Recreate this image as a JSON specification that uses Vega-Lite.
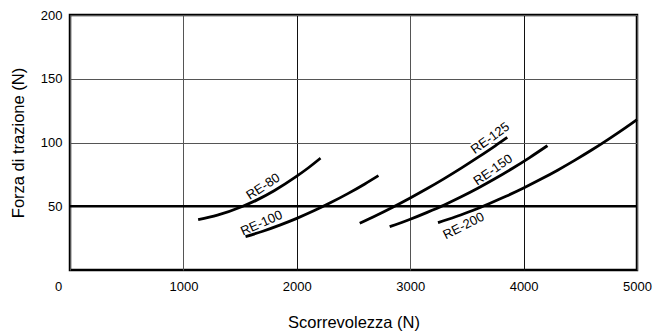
{
  "$schema": "https://vega.github.io/schema/vega-lite/v6.json",
  "width": 567,
  "height": 255,
  "autosize": {"type": "none"},
  "padding": {"left": 70, "top": 15, "right": 17, "bottom": 64},
  "background": "white",
  "config": {
    "view": {"stroke": "black", "strokeWidth": 2.5},
    "font": "Liberation Sans, Arial, sans-serif"
  },
  "datasets": {
    "curves": [
      {"model": "RE-80", "scorrevolezza": 1130, "forza": 39.5},
      {"model": "RE-80", "scorrevolezza": 1300, "forza": 43},
      {"model": "RE-80", "scorrevolezza": 1524, "forza": 50},
      {"model": "RE-80", "scorrevolezza": 1650, "forza": 55},
      {"model": "RE-80", "scorrevolezza": 1800, "forza": 62.2},
      {"model": "RE-80", "scorrevolezza": 2000, "forza": 73.6},
      {"model": "RE-80", "scorrevolezza": 2100, "forza": 80},
      {"model": "RE-80", "scorrevolezza": 2209, "forza": 87.7},
      {"model": "RE-100", "scorrevolezza": 1548, "forza": 26.2},
      {"model": "RE-100", "scorrevolezza": 1700, "forza": 30.4},
      {"model": "RE-100", "scorrevolezza": 1850, "forza": 35.2},
      {"model": "RE-100", "scorrevolezza": 2000, "forza": 40.5},
      {"model": "RE-100", "scorrevolezza": 2150, "forza": 46.4},
      {"model": "RE-100", "scorrevolezza": 2300, "forza": 52.9},
      {"model": "RE-100", "scorrevolezza": 2450, "forza": 59.9},
      {"model": "RE-100", "scorrevolezza": 2600, "forza": 67.5},
      {"model": "RE-100", "scorrevolezza": 2720, "forza": 74},
      {"model": "RE-125", "scorrevolezza": 2555, "forza": 36.6},
      {"model": "RE-125", "scorrevolezza": 2700, "forza": 42.7},
      {"model": "RE-125", "scorrevolezza": 2850, "forza": 49.4},
      {"model": "RE-125", "scorrevolezza": 3000, "forza": 56.5},
      {"model": "RE-125", "scorrevolezza": 3150, "forza": 63.9},
      {"model": "RE-125", "scorrevolezza": 3300, "forza": 71.7},
      {"model": "RE-125", "scorrevolezza": 3450, "forza": 79.9},
      {"model": "RE-125", "scorrevolezza": 3600, "forza": 88.5},
      {"model": "RE-125", "scorrevolezza": 3750, "forza": 97.4},
      {"model": "RE-125", "scorrevolezza": 3856, "forza": 104},
      {"model": "RE-150", "scorrevolezza": 2819, "forza": 34},
      {"model": "RE-150", "scorrevolezza": 3000, "forza": 39.8},
      {"model": "RE-150", "scorrevolezza": 3150, "forza": 45.2},
      {"model": "RE-150", "scorrevolezza": 3300, "forza": 51},
      {"model": "RE-150", "scorrevolezza": 3450, "forza": 57.4},
      {"model": "RE-150", "scorrevolezza": 3600, "forza": 64.3},
      {"model": "RE-150", "scorrevolezza": 3750, "forza": 71.7},
      {"model": "RE-150", "scorrevolezza": 3900, "forza": 79.6},
      {"model": "RE-150", "scorrevolezza": 4050, "forza": 88},
      {"model": "RE-150", "scorrevolezza": 4210, "forza": 97.5},
      {"model": "RE-200", "scorrevolezza": 3245, "forza": 37.1},
      {"model": "RE-200", "scorrevolezza": 3400, "forza": 41.8},
      {"model": "RE-200", "scorrevolezza": 3550, "forza": 46.7},
      {"model": "RE-200", "scorrevolezza": 3700, "forza": 52.2},
      {"model": "RE-200", "scorrevolezza": 3850, "forza": 58},
      {"model": "RE-200", "scorrevolezza": 4000, "forza": 64.3},
      {"model": "RE-200", "scorrevolezza": 4150, "forza": 71.1},
      {"model": "RE-200", "scorrevolezza": 4300, "forza": 78.3},
      {"model": "RE-200", "scorrevolezza": 4450, "forza": 86},
      {"model": "RE-200", "scorrevolezza": 4600, "forza": 94.1},
      {"model": "RE-200", "scorrevolezza": 4750, "forza": 102.7},
      {"model": "RE-200", "scorrevolezza": 4900, "forza": 111.7},
      {"model": "RE-200", "scorrevolezza": 5000, "forza": 118}
    ]
  },
  "layer": [
    {
      "data": {"values": [{"forza": 50}]},
      "mark": {"type": "rule", "color": "black", "strokeWidth": 2.5},
      "encoding": {
        "y": {
          "field": "forza",
          "type": "quantitative",
          "scale": {"domain": [0, 200], "nice": false},
          "axis": {
            "values": [50, 100, 150, 200],
            "title": "Forza di trazione (N)",
            "titleFontSize": 16.5,
            "titleFontWeight": "normal",
            "titleColor": "black",
            "titlePadding": 14,
            "labelFontSize": 13,
            "labelColor": "black",
            "labelPadding": 8,
            "ticks": false,
            "domain": false,
            "grid": true,
            "gridColor": "#555",
            "gridWidth": 1
          }
        }
      }
    },
    {
      "data": {"name": "curves"},
      "mark": {"type": "line", "color": "black", "strokeWidth": 2.8, "interpolate": "monotone"},
      "encoding": {
        "x": {
          "field": "scorrevolezza",
          "type": "quantitative",
          "scale": {"domain": [0, 5000], "nice": false},
          "axis": {
            "values": [0, 1000, 2000, 3000, 4000, 5000],
            "format": "d",
            "title": "Scorrevolezza (N)",
            "titleFontSize": 16.5,
            "titleFontWeight": "normal",
            "titleColor": "black",
            "titlePadding": 21,
            "labelFontSize": 13,
            "labelColor": "black",
            "labelPadding": 10,
            "labelFlush": false,
            "labelOffset": {"expr": "datum.value === 0 ? -12 : 0"},
            "ticks": false,
            "domain": false,
            "grid": true,
            "gridColor": {"expr": "datum.value === 2000 || datum.value === 4000 ? '#111' : '#555'"},
            "gridWidth": 1
          }
        },
        "y": {"field": "forza", "type": "quantitative"},
        "detail": {"field": "model", "type": "nominal"}
      }
    },
    {
      "data": {"values": [{"label": "RE-80", "scorrevolezza": 1703, "forza": 65.4}]},
      "mark": {"type": "text", "angle": 327, "fontSize": 13, "color": "black", "align": "center", "baseline": "middle"},
      "encoding": {
        "x": {"field": "scorrevolezza", "type": "quantitative"},
        "y": {"field": "forza", "type": "quantitative"},
        "text": {"field": "label"}
      }
    },
    {
      "data": {"values": [{"label": "RE-100", "scorrevolezza": 1689, "forza": 36.7}]},
      "mark": {"type": "text", "angle": 336, "fontSize": 13, "color": "black", "align": "center", "baseline": "middle"},
      "encoding": {
        "x": {"field": "scorrevolezza", "type": "quantitative"},
        "y": {"field": "forza", "type": "quantitative"},
        "text": {"field": "label"}
      }
    },
    {
      "data": {"values": [{"label": "RE-125", "scorrevolezza": 3706, "forza": 103.4}]},
      "mark": {"type": "text", "angle": 324, "fontSize": 13, "color": "black", "align": "center", "baseline": "middle", "stroke": "white", "strokeWidth": 4, "strokeOpacity": 1},
      "encoding": {
        "x": {"field": "scorrevolezza", "type": "quantitative"},
        "y": {"field": "forza", "type": "quantitative"},
        "text": {"field": "label"}
      }
    },
    {
      "data": {"values": [{"label": "RE-125", "scorrevolezza": 3706, "forza": 103.4}]},
      "mark": {"type": "text", "angle": 324, "fontSize": 13, "color": "black", "align": "center", "baseline": "middle"},
      "encoding": {
        "x": {"field": "scorrevolezza", "type": "quantitative"},
        "y": {"field": "forza", "type": "quantitative"},
        "text": {"field": "label"}
      }
    },
    {
      "data": {"values": [{"label": "RE-150", "scorrevolezza": 3730, "forza": 78.5}]},
      "mark": {"type": "text", "angle": 325, "fontSize": 13, "color": "black", "align": "center", "baseline": "middle"},
      "encoding": {
        "x": {"field": "scorrevolezza", "type": "quantitative"},
        "y": {"field": "forza", "type": "quantitative"},
        "text": {"field": "label"}
      }
    },
    {
      "data": {"values": [{"label": "RE-200", "scorrevolezza": 3471, "forza": 34.6}]},
      "mark": {"type": "text", "angle": 333, "fontSize": 13, "color": "black", "align": "center", "baseline": "middle"},
      "encoding": {
        "x": {"field": "scorrevolezza", "type": "quantitative"},
        "y": {"field": "forza", "type": "quantitative"},
        "text": {"field": "label"}
      }
    }
  ]
}
